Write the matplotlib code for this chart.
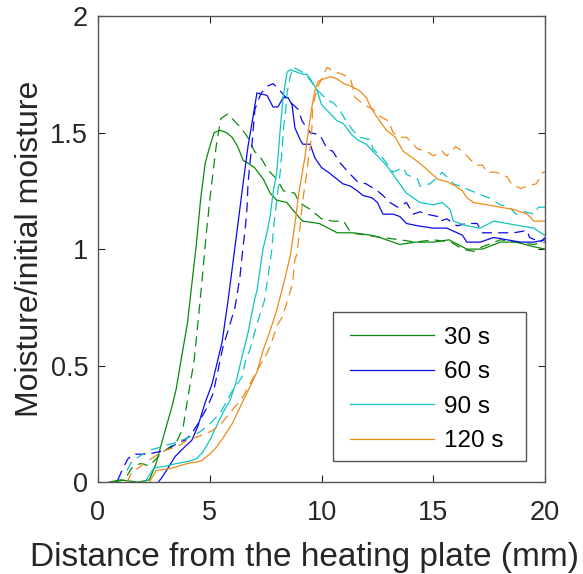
import numpy as np
import matplotlib
matplotlib.use("Agg")
import matplotlib.pyplot as plt
from matplotlib.patches import Rectangle

plt.rcParams['font.family'] = ['Liberation Sans', 'DejaVu Sans']

## 30 s
x30 = [0.5, 1.0, 1.8, 2.3, 2.6, 2.8, 3.0, 3.3, 3.5, 3.8, 4.0, 4.2, 4.4, 4.6, 4.8, 5.0, 5.2, 5.45, 5.75, 6.0, 6.25,
       6.5, 6.7, 7.0, 7.4, 7.7, 8.0, 8.45, 8.7, 9.15, 9.9, 10.7, 11.4, 12.2, 12.6, 13.5, 14.2, 15.0, 15.7, 16.5, 17.2,
       18.0, 18.7, 19.5, 20.0]
y30 = [0.0, 0.01, 0.0, 0.01, 0.08, 0.15, 0.22, 0.32, 0.40, 0.57, 0.68, 0.85, 1.02, 1.22, 1.37, 1.44, 1.50, 1.51, 1.50,
       1.48, 1.44, 1.38, 1.37, 1.35, 1.30, 1.24, 1.21, 1.20, 1.17, 1.12, 1.11, 1.07, 1.07, 1.06, 1.05, 1.02, 1.03, 1.03,
       1.04, 1.00, 1.00, 1.03, 1.03, 1.01, 1.00]
x30d = [0.7, 1.2, 1.5, 1.9, 2.3, 2.6, 2.9, 3.2, 3.5, 3.8, 4.0, 4.3, 4.5, 4.65, 4.85, 5.0, 5.3, 5.5, 5.8, 6.0, 6.4, 6.7,
        7.0, 7.3, 7.6, 8.0, 8.3, 8.8, 9.0, 9.5, 10.0, 10.5, 11.0, 11.3, 12.0, 12.7, 13.5, 14.2, 15.0, 15.8, 16.3, 16.8,
        17.2, 18.0, 18.7, 19.5, 20.0]
y30d = [0.0, 0.01, 0.06, 0.08, 0.07, 0.10, 0.13, 0.15, 0.17, 0.23, 0.35, 0.52, 0.71, 0.86, 1.07, 1.21, 1.45, 1.56, 1.58,
        1.56, 1.52, 1.48, 1.42, 1.39, 1.34, 1.30, 1.25, 1.24, 1.20, 1.17, 1.13, 1.12, 1.12, 1.07, 1.06, 1.05, 1.04, 1.03,
        1.04, 1.03, 1.00, 0.99, 1.01, 1.04, 1.03, 1.02, 1.03]

## 60 s
x60 = [2.7, 2.86, 3.13, 3.45, 3.76, 4.2, 4.47, 4.79, 5.1, 5.55, 5.82, 6.13, 6.49, 6.71, 6.94, 7.11, 7.56, 7.83, 8.05, 8.28,
       8.5, 8.68, 8.81, 9.04, 9.17, 9.49, 9.71, 10.0, 10.3, 10.7, 10.96, 11.3, 11.6, 11.86, 12.26, 12.5, 12.75, 13.2, 13.5,
       13.8, 14.3, 15.0, 15.6, 16.3, 16.5, 17.1, 17.7, 18.3, 18.9, 19.5, 20.0]
y60 = [0.0, 0.02, 0.06, 0.11, 0.14, 0.18, 0.24, 0.34, 0.42, 0.60, 0.78, 1.01, 1.28, 1.44, 1.57, 1.67, 1.66, 1.61, 1.61,
       1.65, 1.65, 1.62, 1.52, 1.47, 1.45, 1.45, 1.39, 1.35, 1.33, 1.30, 1.28, 1.27, 1.25, 1.23, 1.22, 1.20, 1.15, 1.15,
       1.14, 1.11, 1.10, 1.09, 1.09, 1.06, 1.03, 1.03, 1.05, 1.04, 1.03, 1.03, 1.04]
x60d = [0.89, 1.12, 1.34, 1.57, 2.24, 2.7, 3.13, 3.58, 3.89, 4.2, 4.47, 4.88, 5.15, 5.37, 5.59, 5.82, 6.13, 6.35, 6.49,
        6.58, 6.67, 6.71, 6.8, 6.89, 7.02, 7.3, 7.6, 7.83, 8.05, 8.5, 8.95, 9.13, 9.49, 9.93, 10.25, 10.5, 10.83, 11.2,
        11.6, 12.0, 12.5, 12.75, 13.06, 13.4, 13.8, 14.1, 14.4, 14.7, 15.2, 15.3, 15.6, 16.06, 16.5, 16.96, 17.2, 17.7,
        18.1, 18.6, 19.2, 19.3, 19.8, 20.0]
y60d = [0.01, 0.06, 0.10, 0.12, 0.12, 0.13, 0.14, 0.17, 0.18, 0.21, 0.25, 0.32, 0.38, 0.48, 0.58, 0.65, 0.75, 0.88, 1.01,
        1.08, 1.18, 1.28, 1.37, 1.45, 1.60, 1.67, 1.70, 1.71, 1.69, 1.64, 1.60, 1.55, 1.50, 1.49, 1.43, 1.42, 1.37, 1.33,
        1.29, 1.28, 1.25, 1.23, 1.20, 1.18, 1.20, 1.15, 1.16, 1.15, 1.14, 1.12, 1.13, 1.10, 1.11, 1.11, 1.07, 1.07, 1.07,
        1.07, 1.08, 1.05, 1.03, 1.05]

## 90 s
x90 = [2.1, 2.5, 3.1, 3.5, 4.1, 4.4, 4.7, 5.0, 5.3, 5.6, 5.9, 6.15, 6.45, 6.71, 7.02, 7.11, 7.38, 7.56, 7.7, 7.83, 8.0,
       8.14, 8.28, 8.46, 8.6, 9.17, 9.35, 9.57, 9.8, 10.0, 10.4, 10.7, 10.96, 11.2, 11.36, 11.6, 12.0, 12.3, 12.6, 12.9,
       13.2, 13.5, 13.8, 14.4, 15.0, 15.4, 15.75, 15.9, 16.5, 17.1, 17.7, 18.3, 18.9, 19.5, 19.8, 20.0]
y90 = [0.0, 0.06, 0.07, 0.08, 0.09, 0.10, 0.13, 0.18, 0.24, 0.30, 0.35, 0.42, 0.54, 0.64, 0.79, 0.82, 1.00, 1.07, 1.14,
       1.24, 1.33, 1.50, 1.65, 1.76, 1.77, 1.75, 1.75, 1.72, 1.68, 1.62, 1.58, 1.55, 1.54, 1.51, 1.49, 1.47, 1.45, 1.42,
       1.39, 1.36, 1.32, 1.28, 1.24, 1.20, 1.19, 1.20, 1.17, 1.12, 1.10, 1.09, 1.12, 1.11, 1.10, 1.09, 1.07, 1.06]
x90d = [1.3, 1.45, 1.7, 2.0, 2.4, 2.8, 3.1, 3.5, 4.0, 4.47, 4.9, 5.3, 5.55, 6.0, 6.44, 6.6, 6.8, 7.0, 7.25, 7.45, 7.6,
        7.78, 7.85, 8.0, 8.15, 8.25, 8.3, 8.4, 8.46, 8.6, 8.72, 8.95, 9.3, 9.6, 9.84, 10.25, 10.5, 10.8, 11.1, 11.4, 11.7,
        12.2, 12.3, 12.75, 12.9, 13.2, 13.65, 13.8, 14.3, 14.4, 14.85, 15.2, 15.4, 15.9, 16.2, 16.7, 17.2, 17.5, 18.0,
        18.4, 18.7, 19.1, 19.5, 19.7, 20.0]
y90d = [0.05, 0.08, 0.10, 0.12, 0.14, 0.15, 0.16, 0.17, 0.19, 0.21, 0.24, 0.28, 0.31, 0.39, 0.45, 0.52, 0.57, 0.64, 0.72,
        0.78, 0.88, 1.00, 1.09, 1.21, 1.33, 1.44, 1.52, 1.60, 1.67, 1.74, 1.78, 1.77, 1.75, 1.71, 1.68, 1.64, 1.63, 1.60,
        1.55, 1.51, 1.48, 1.47, 1.43, 1.39, 1.37, 1.33, 1.35, 1.32, 1.30, 1.27, 1.28, 1.31, 1.33, 1.28, 1.27, 1.25, 1.23,
        1.22, 1.19, 1.18, 1.15, 1.16, 1.15, 1.18, 1.18]

## 120 s
x120 = [2.3, 2.6, 3.3, 4.0, 4.6, 5.0, 5.3, 5.6, 6.0, 6.35, 6.8, 7.1, 7.4, 7.7, 8.0, 8.3, 8.6, 8.8, 9.0, 9.25, 9.4, 9.55,
        9.7, 9.85, 10.1, 10.4, 10.7, 11.0, 11.3, 11.7, 12.0, 12.25, 12.6, 12.9, 13.3, 13.65, 14.1, 14.5, 14.85, 15.2, 15.6,
        16.0, 16.3, 16.5, 16.8, 17.4, 18.0, 18.6, 19.2, 19.5, 20.0]
y120 = [0.0, 0.05, 0.06, 0.08, 0.09, 0.12, 0.15, 0.19, 0.25, 0.32, 0.41, 0.47, 0.57, 0.65, 0.74, 0.85, 0.97, 1.10, 1.25,
        1.39, 1.50, 1.60, 1.68, 1.72, 1.73, 1.74, 1.73, 1.71, 1.70, 1.68, 1.65, 1.60, 1.55, 1.51, 1.48, 1.42, 1.39, 1.36,
        1.33, 1.30, 1.29, 1.27, 1.25, 1.22, 1.20, 1.19, 1.18, 1.17, 1.15, 1.12, 1.12]
x120d = [1.3, 1.5, 1.8, 2.2, 2.7, 3.1, 3.5, 4.0, 4.6, 5.1, 5.5, 6.1, 6.45, 6.9, 7.3, 7.55, 7.8, 8.0, 8.25, 8.45, 8.7, 8.8,
         8.9, 9.0, 9.15, 9.25, 9.35, 9.4, 9.5, 9.57, 9.6, 9.7, 9.85, 10.05, 10.25, 10.6, 10.95, 11.3, 11.5, 11.9, 12.3,
         12.6, 13.0, 13.2, 13.5, 13.8, 14.1, 14.3, 14.7, 15.0, 15.4, 15.6, 16.0, 16.3, 16.5, 16.9, 17.2, 17.4, 17.8, 18.3,
         18.5, 18.9, 19.2, 19.6, 19.9, 20.0]
y120d = [0.0, 0.04, 0.06, 0.09, 0.12, 0.14, 0.15, 0.18, 0.20, 0.22, 0.25, 0.32, 0.36, 0.44, 0.51, 0.55, 0.61, 0.67, 0.71,
         0.77, 0.85, 0.95, 0.98, 1.06, 1.20, 1.27, 1.33, 1.38, 1.44, 1.52, 1.60, 1.65, 1.70, 1.74, 1.78, 1.76, 1.75, 1.73,
         1.65, 1.62, 1.60, 1.57, 1.55, 1.50, 1.48, 1.48, 1.45, 1.43, 1.42, 1.40, 1.42, 1.40, 1.44, 1.42, 1.40, 1.36, 1.36,
         1.33, 1.33, 1.31, 1.28, 1.26, 1.27, 1.28, 1.33, 1.33]

labels = ['30 s', '60 s', '90 s', '120 s']
colors = ['#0a8a0a', '#0a0aee', '#10c4c4', '#ee8a1c']
solid = [(x30, y30), (x60, y60), (x90, y90), (x120, y120)]
dashed = [(x30d, y30d), (x60d, y60d), (x90d, y90d), (x120d, y120d)]

fig = plt.figure(figsize=(5.83, 5.74), dpi=100)
ax = fig.add_axes([0.168, 0.160, 0.767, 0.812])

lines = []
for (xs, ys), (xd, yd), c, lab in zip(solid, dashed, colors, labels):
    l, = ax.plot(xs, ys, color=c, lw=0.9, label=lab)
    ax.plot(xd, yd, color=c, lw=0.9, linestyle=(0, (8, 5)))
    lines.append(l)

ax.set_xlim(0, 20)
ax.set_ylim(0, 2)
ax.set_xticks([0, 5, 10, 15, 20])
ax.set_yticks([0, 0.5, 1, 1.5, 2])
ax.set_yticklabels(['0', '0.5', '1', '1.5', '2'])
ax.tick_params(direction='in', length=5, width=0.8, top=True, right=True,
               labelsize=19.5, colors='#262626', pad=7)
ax.tick_params(axis='x', pad=13)
for s in ax.spines.values():
    s.set_color('#555555')
    s.set_linewidth(1.0)

ax.set_xlabel('Distance from the heating plate (mm)', fontsize=24, color='#262626')
ax.xaxis.set_label_coords(0.461, -0.128)
ax.set_ylabel('Moisture/initial moisture', fontsize=23, color='#262626', labelpad=4)

# legend box (MATLAB style, with extra room on the right)
ax.add_patch(Rectangle((0.526, 0.045), 0.431, 0.32, transform=ax.transAxes, fill=True,
                       facecolor='white', edgecolor='#555555', lw=1.0, zorder=4))
leg = ax.legend(handles=lines, loc='upper left', fontsize=17.5, frameon=False,
                handlelength=3.45, handletextpad=0.4, labelspacing=0.52,
                borderpad=0, borderaxespad=0, bbox_to_anchor=(0.564, 0.334))
leg.set_zorder(5)

fig.savefig('out.png', dpi=100)
